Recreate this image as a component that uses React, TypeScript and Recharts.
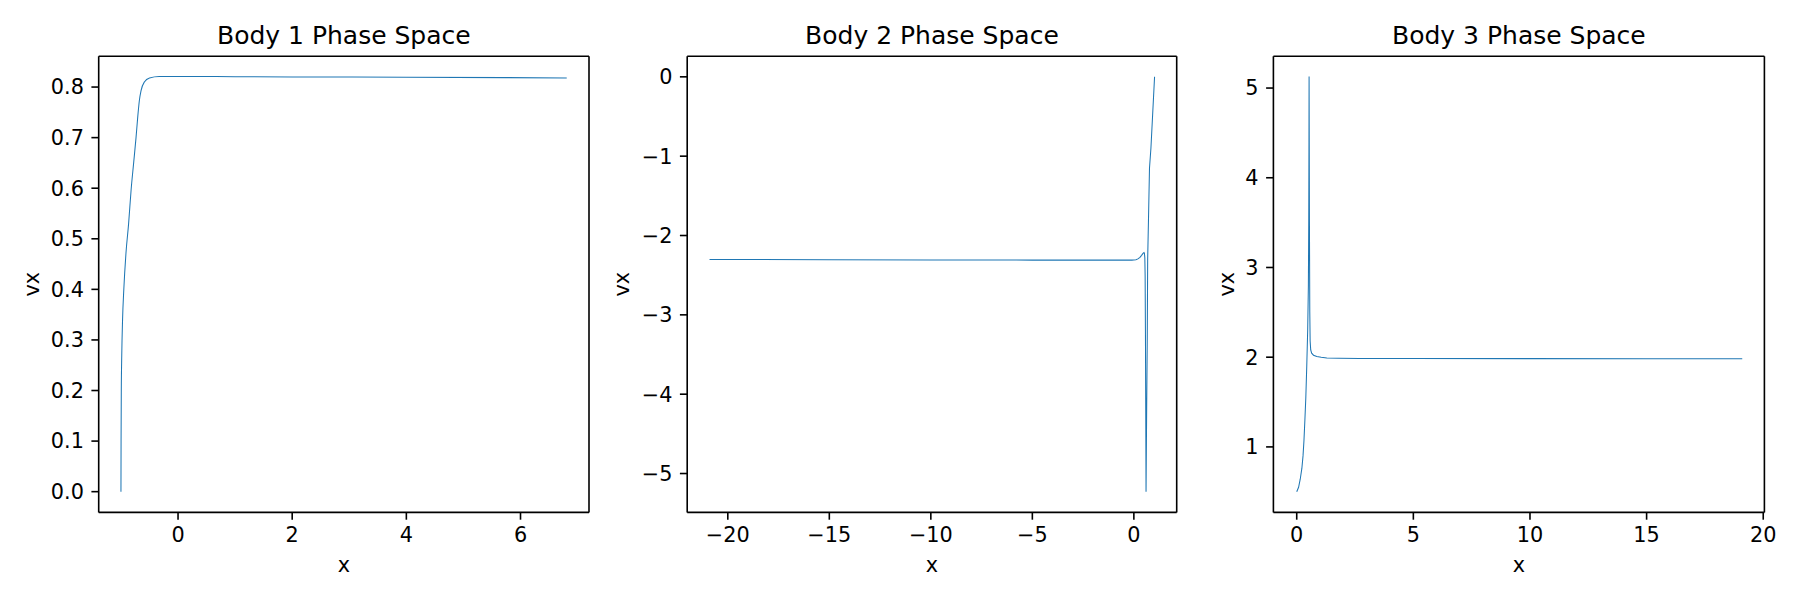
import React from "react";
import { LineChart, Line, XAxis, YAxis, ReferenceLine } from "recharts";

// ---------- data ----------
const body1X = [-1.0, -0.998, -0.994, -0.986, -0.972, -0.95, -0.912, -0.866, -0.822, -0.776, -0.736, -0.706, -0.677, -0.648, -0.59, -0.5, -0.33, 0.0, 1.0, 2.0, 4.0, 6.81];
const body1Vx = [0.0, 0.1, 0.2, 0.27, 0.34, 0.4, 0.472, 0.53, 0.597, 0.652, 0.7, 0.741, 0.774, 0.793, 0.81, 0.818, 0.821, 0.821, 0.8205, 0.82, 0.8195, 0.818];

const body2X = [1.02, 0.92, 0.84, 0.77, 0.72, 0.68, 0.66, 0.63, 0.6, 0.585, 0.57, 0.555, 0.54, 0.52, 0.5, 0.45, 0.38, 0.3, 0.2, 0.1, -0.1, -1.0, -5.0, -10.0, -15.0, -20.9];
const body2Vx = [0.0, -0.5, -0.9, -1.15, -1.8, -2.3, -3.3, -4.2, -5.23, -4.2, -3.2, -2.5, -2.28, -2.225, -2.215, -2.225, -2.25, -2.275, -2.295, -2.305, -2.31, -2.31, -2.31, -2.308, -2.305, -2.302];

const body3X = [0.0, 0.08, 0.15, 0.22, 0.27, 0.31, 0.35, 0.39, 0.43, 0.47, 0.5, 0.515, 0.525, 0.53, 0.545, 0.56, 0.575, 0.6, 0.64, 0.72, 0.86, 1.05, 1.29, 1.8, 2.7, 5.0, 10.0, 15.0, 19.1];
const body3Vx = [0.5, 0.55, 0.64, 0.76, 0.9, 1.07, 1.3, 1.55, 1.9, 2.3, 2.8, 3.5, 4.4, 5.13, 3.5, 2.5, 2.18, 2.08, 2.045, 2.022, 2.008, 2.0, 1.992, 1.988, 1.985, 1.985, 1.984, 1.983, 1.983];

const body1XTicks = [0, 2, 4, 6];
const body1VxTicks = [0, 0.1, 0.2, 0.3, 0.4, 0.5, 0.6, 0.7, 0.8];
const body2XTicks = [-20, -15, -10, -5, 0];
const body2VxTicks = [-5, -4, -3, -2, -1, 0];
const body3XTicks = [0, 5, 10, 15, 20];
const body3VxTicks = [1, 2, 3, 4, 5];

const titles = ["Body 1 Phase Space", "Body 2 Phase Space", "Body 3 Phase Space"];

// ---------- styling ----------
const FONT = "'DejaVu Sans', sans-serif";
const LINE_COLOR = "#1f77b4";
const AXIS_COLOR = "#000";
const TICK_FONT = 20.8;

const minus = (s: string) => s.replace("-", "\u2212");
const fmtInt = (v: number) => minus(String(v));
const fmt1 = (v: number) => minus(v.toFixed(1));

type PanelProps = {
  xs: number[];
  vs: number[];
  title: string;
  xDomain: [number, number];
  yDomain: [number, number];
  xTicks: number[];
  yTicks: number[];
  fmtX: (v: number) => string;
  fmtY: (v: number) => string;
  plotLeft: number;
  plotRight: number;
  yLabelOffset: number;
  left: number;
  curve: "monotone" | "linear";
};

const W = 600;
const H = 600;
const PLOT_TOP = 56.2;
const PLOT_BOTTOM = 512.4;
const Y_AXIS_W = 70;
const X_AXIS_H = 60;

function Panel(p: PanelProps) {
  const data = p.xs.map((x, i) => ({ x, vx: p.vs[i] }));
  const margin = {
    top: PLOT_TOP,
    bottom: H - PLOT_BOTTOM - X_AXIS_H,
    left: p.plotLeft - Y_AXIS_W,
    right: W - p.plotRight,
  };
  const axisLine = { stroke: AXIS_COLOR, strokeWidth: 1.6 };
  const tickStyle = { fill: "#000", fontSize: TICK_FONT, fontFamily: FONT };

  const xLabel = (props: any) => {
    const vb = props.viewBox || {};
    return (
      <text x={vb.x + vb.width / 2} y={vb.y + 59.1} textAnchor="middle" fontSize={TICK_FONT} fontFamily={FONT} fill="#000">
        x
      </text>
    );
  };
  const yLabel = (props: any) => {
    const vb = props.viewBox || {};
    const x = vb.x + vb.width - p.yLabelOffset;
    const cy = vb.y + vb.height / 2;
    return (
      <text x={x} y={cy} transform={`rotate(-90 ${x} ${cy})`} textAnchor="middle" fontSize={TICK_FONT} fontFamily={FONT} fill="#000">
        vx
      </text>
    );
  };

  return (
    <div style={{ position: "absolute", left: p.left, top: 0, width: W, height: H }}>
      <LineChart width={W} height={H} data={data} margin={margin}>
        <XAxis
          type="number"
          dataKey="x"
          domain={p.xDomain}
          ticks={p.xTicks}
          interval={0}
          allowDataOverflow
          height={X_AXIS_H}
          tickSize={7.3}
          tickMargin={8}
          axisLine={axisLine}
          tickLine={axisLine}
          tick={tickStyle}
          tickFormatter={p.fmtX}
          label={{ content: xLabel }}
        />
        <YAxis
          type="number"
          domain={p.yDomain}
          ticks={p.yTicks}
          interval={0}
          allowDataOverflow
          width={Y_AXIS_W}
          tickSize={7.3}
          tickMargin={7.5}
          axisLine={axisLine}
          tickLine={axisLine}
          tick={tickStyle}
          tickFormatter={p.fmtY}
          label={{ content: yLabel }}
        />
        <ReferenceLine y={p.yDomain[1]} stroke={AXIS_COLOR} strokeWidth={1.6} ifOverflow="visible" />
        <ReferenceLine x={p.xDomain[1]} stroke={AXIS_COLOR} strokeWidth={1.6} ifOverflow="visible" />
        <Line
          type={p.curve}
          dataKey="vx"
          stroke={LINE_COLOR}
          strokeWidth={1.05}
          dot={false}
          activeDot={false}
          isAnimationActive={false}
        />
      </LineChart>
      <svg
        width={W}
        height={PLOT_TOP}
        style={{ position: "absolute", left: 0, top: 0, pointerEvents: "none" }}
      >
        <text
          x={(p.plotLeft + p.plotRight) / 2}
          y={PLOT_TOP - 12.2}
          textAnchor="middle"
          fontSize={25}
          fontFamily={FONT}
          fill="#000"
        >
          {p.title}
        </text>
      </svg>
    </div>
  );
}

export default function App() {
  return (
    <div style={{ position: "absolute", left: 0, top: 0, width: 1800, height: 600, background: "#fff", fontFamily: FONT }}>
      <Panel
        xs={body1X}
        vs={body1Vx}
        title={titles[0]}
        xDomain={[-1.39, 7.2]}
        yDomain={[-0.041, 0.861]}
        xTicks={body1XTicks}
        yTicks={body1VxTicks}
        fmtX={fmtInt}
        fmtY={fmt1}
        plotLeft={98.7}
        plotRight={589}
        yLabelOffset={59.7}
        left={0}
        curve="monotone"
      />
      <Panel
        xs={body2X}
        vs={body2Vx}
        title={titles[1]}
        xDomain={[-22.0, 2.11]}
        yDomain={[-5.49, 0.26]}
        xTicks={body2XTicks}
        yTicks={body2VxTicks}
        fmtX={fmtInt}
        fmtY={fmtInt}
        plotLeft={87.2}
        plotRight={576.7}
        yLabelOffset={57.8}
        left={600}
        curve="linear"
      />
      <Panel
        xs={body3X}
        vs={body3Vx}
        title={titles[2]}
        xDomain={[-1.0, 20.05]}
        yDomain={[0.27, 5.355]}
        xTicks={body3XTicks}
        yTicks={body3VxTicks}
        fmtX={fmtInt}
        fmtY={fmtInt}
        plotLeft={73.4}
        plotRight={564.4}
        yLabelOffset={39}
        left={1200}
        curve="linear"
      />
    </div>
  );
}
